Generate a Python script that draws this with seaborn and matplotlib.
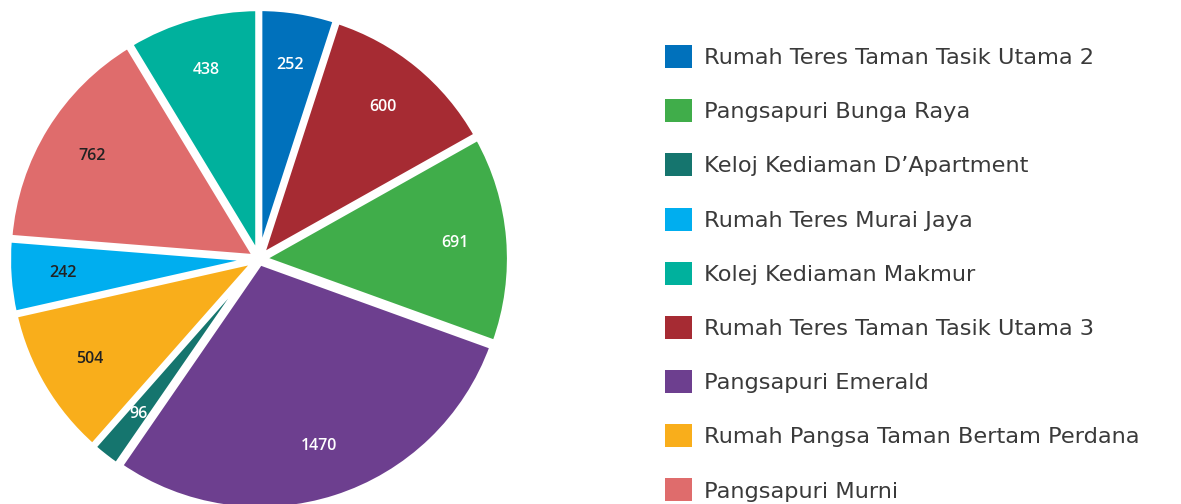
import matplotlib
matplotlib.use("Agg")
import matplotlib.pyplot as plt
from matplotlib.patches import Patch
import seaborn as sns

# slices in drawing order: clockwise from 12 o'clock
places = [
    "Rumah Teres Taman Tasik Utama 2",
    "Rumah Teres Taman Tasik Utama 3",
    "Pangsapuri Bunga Raya",
    "Pangsapuri Emerald",
    "Keloj Kediaman D\u2019Apartment",
    "Rumah Pangsa Taman Bertam Perdana",
    "Rumah Teres Murai Jaya",
    "Pangsapuri Murni",
    "Kolej Kediaman Makmur",
]
counts = [252, 600, 691, 1470, 96, 504, 242, 762, 438]
colours = ["#0071BC", "#A62B33", "#40AD4A", "#6D3F8F", "#15756E",
           "#F9AE1B", "#00AEEF", "#DF6C6C", "#00B19D"]

legend_order = [
    "Rumah Teres Taman Tasik Utama 2",
    "Pangsapuri Bunga Raya",
    "Keloj Kediaman D\u2019Apartment",
    "Rumah Teres Murai Jaya",
    "Kolej Kediaman Makmur",
    "Rumah Teres Taman Tasik Utama 3",
    "Pangsapuri Emerald",
    "Rumah Pangsa Taman Bertam Perdana",
    "Pangsapuri Murni",
]
dark_labels = ["Rumah Pangsa Taman Bertam Perdana", "Rumah Teres Murai Jaya", "Pangsapuri Murni"]

sns.set_theme(style="white")
palette = sns.color_palette(colours)

W, H = 1181, 504
fig = plt.figure(figsize=(W / 100, H / 100), dpi=100)

# pie geometry in pixels
cx, cy, r = 259, 259, 247
lim = 1.1
side = 2 * lim * r
ax = fig.add_axes([(cx - side / 2) / W, (H - cy - side / 2) / H, side / W, side / H])

wedges, texts = ax.pie(
    counts, labels=[str(c) for c in counts], colors=palette,
    startangle=90, counterclock=False, labeldistance=0.78,
    explode=[0.015] * len(counts),
    wedgeprops=dict(edgecolor="white", linewidth=4),
    textprops=dict(fontsize=11.5, fontweight="semibold", family="Open Sans"),
)
for t, name in zip(texts, places):
    t.set_color("#222222" if name in dark_labels else "white")
    t.set_horizontalalignment("center")
ax.set_xlim(-lim, lim)
ax.set_ylim(-lim, lim)
ax.set_aspect("equal")
ax.axis("off")

handles = [Patch(facecolor=palette[places.index(n)], edgecolor="none") for n in legend_order]
leg = fig.legend(
    handles, legend_order, loc="upper left",
    bbox_to_anchor=(665 / W, (H - 45) / H), bbox_transform=fig.transFigure,
    frameon=False, fontsize=16.2, handlelength=1.2, handleheight=1.2,
    handletextpad=0.55, labelspacing=1.38, borderaxespad=0, borderpad=0,
)
for t in leg.get_texts():
    t.set_color("#3a3a3a")

fig.savefig("out.png", dpi=100)
